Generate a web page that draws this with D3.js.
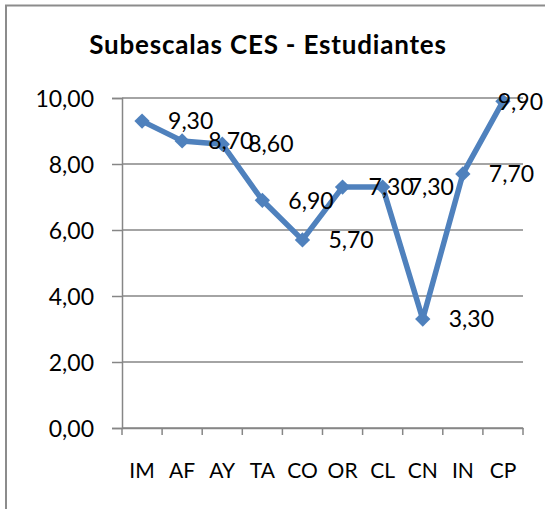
<!DOCTYPE html>
<html><head><meta charset="utf-8">
<script src="https://cdn.jsdelivr.net/npm/d3@7"></script>
<style>
html,body{margin:0;padding:0;background:#fff;}
svg{display:block;}
text{font-family:Lato, "Liberation Sans", sans-serif;fill:#000;}
</style></head>
<body>
<svg id="chart" width="545" height="509"></svg>
<script>
const title = "Subescalas CES - Estudiantes";
const categories = ["IM","AF","AY","TA","CO","OR","CL","CN","IN","CP"];
const values = [9.3, 8.7, 8.6, 6.9, 5.7, 7.3, 7.3, 3.3, 7.7, 9.9];
const yTicks = [0, 2, 4, 6, 8, 10];

const W = 545, H = 509;
const svg = d3.select("#chart");
const fmt = v => d3.format(".2f")(v).replace(".", ",");

// outer border (only top and left visible)
svg.append("path").attr("d", `M6,${H} V5.5 H${W}`).attr("fill","none")
  .attr("stroke","#8c8c8c").attr("stroke-width",2);

const x = d3.scaleBand().domain(categories).range([122, 523]).paddingInner(0).paddingOuter(0);
const y = d3.scaleLinear().domain([0, 10]).range([428, 98]);

svg.append("text").attr("x", 268).attr("y", 54).attr("text-anchor","middle")
  .style("font-weight","bold").style("font-size","26px").style("letter-spacing","0.8px").text(title);

// gridlines
svg.append("g").selectAll("line").data(yTicks).join("line")
  .attr("x1", 122).attr("x2", 523).attr("y1", d => y(d)).attr("y2", d => y(d))
  .attr("stroke","#868686").attr("stroke-width",1.5);

// y axis
const yAxis = svg.append("g").attr("transform","translate(122,0)")
  .call(d3.axisLeft(y).tickValues(yTicks).tickFormat(fmt).tickSize(10).tickPadding(18));
// x axis
const xAxis = svg.append("g").attr("transform","translate(0,428)")
  .call(d3.axisBottom(x).tickSize(0).tickPadding(35));
// x ticks at band boundaries
svg.append("g").selectAll("line").data(d3.range(categories.length + 1)).join("line")
  .attr("x1", i => 122 + i * x.bandwidth()).attr("x2", i => 122 + i * x.bandwidth())
  .attr("y1", 428).attr("y2", 435).attr("stroke","#868686").attr("stroke-width",1.5);

[yAxis, xAxis].forEach(g => {
  g.selectAll("path.domain").attr("stroke","#868686").attr("stroke-width",1.5);
  g.selectAll(".tick line").attr("stroke","#868686").attr("stroke-width",1.5);
  g.selectAll("text").style("font-family","Lato").attr("fill","#000");
});
yAxis.selectAll("text").attr("dy","0.36em").style("font-size","23px");
xAxis.selectAll("text").style("font-size","21px");

const cx = c => x(c) + x.bandwidth() / 2;
const line = d3.line().x((d, i) => cx(categories[i])).y(d => y(d));
svg.append("path").datum(values).attr("d", line).attr("fill","none")
  .attr("stroke","#4F81BD").attr("stroke-width",5.5).attr("stroke-linejoin","round");

svg.append("g").selectAll("path").data(values).join("path")
  .attr("transform", (d, i) => `translate(${cx(categories[i])},${y(d)})`)
  .attr("d", d3.symbol().type(d3.symbolDiamond2).size(150)).attr("fill","#4F81BD");

const labels = svg.append("g").selectAll("text").data(values).join("text")
  .attr("y", d => y(d)).attr("dy","0.36em").style("font-size","23px").text(fmt);
labels.each(function(d, i) {
  const w = this.getComputedTextLength();
  let lx = cx(categories[i]) + 26;
  if (lx + w > W - 2) lx = W - 2 - w;
  d3.select(this).attr("x", lx);
});
</script>
</body></html>
